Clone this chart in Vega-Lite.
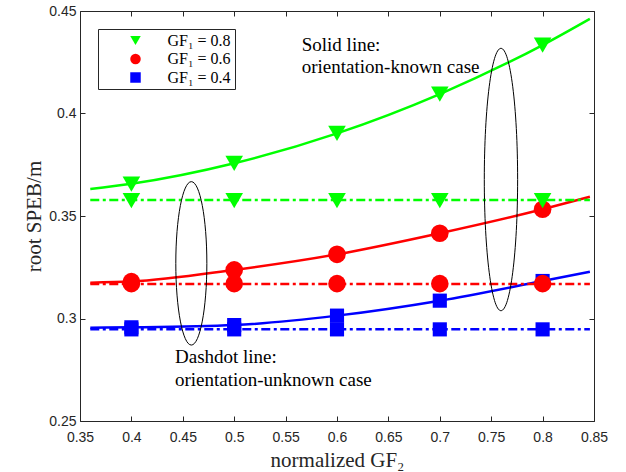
{
  "$schema": "https://vega.github.io/schema/vega-lite/v6.json",
  "width": 514,
  "height": 410,
  "autosize": {"type": "none"},
  "padding": {"left": 80, "top": 11, "right": 32, "bottom": 51},
  "background": "white",
  "config": {
    "view": {"stroke": "#262626", "strokeWidth": 1}
  },
  "datasets": {
    "lines": [
      {"x": 0.36, "y": 0.3632, "series": "GF₁ = 0.8", "kind": "solid"},
      {"x": 0.4, "y": 0.3657, "series": "GF₁ = 0.8", "kind": "solid"},
      {"x": 0.5, "y": 0.3757, "series": "GF₁ = 0.8", "kind": "solid"},
      {"x": 0.6, "y": 0.3903, "series": "GF₁ = 0.8", "kind": "solid"},
      {"x": 0.7, "y": 0.4095, "series": "GF₁ = 0.8", "kind": "solid"},
      {"x": 0.8, "y": 0.4334, "series": "GF₁ = 0.8", "kind": "solid"},
      {"x": 0.846, "y": 0.4462, "series": "GF₁ = 0.8", "kind": "solid"},
      {"x": 0.36, "y": 0.3175, "series": "GF₁ = 0.6", "kind": "solid"},
      {"x": 0.4, "y": 0.318, "series": "GF₁ = 0.6", "kind": "solid"},
      {"x": 0.5, "y": 0.3237, "series": "GF₁ = 0.6", "kind": "solid"},
      {"x": 0.6, "y": 0.3313, "series": "GF₁ = 0.6", "kind": "solid"},
      {"x": 0.7, "y": 0.3416, "series": "GF₁ = 0.6", "kind": "solid"},
      {"x": 0.8, "y": 0.3533, "series": "GF₁ = 0.6", "kind": "solid"},
      {"x": 0.846, "y": 0.3594, "series": "GF₁ = 0.6", "kind": "solid"},
      {"x": 0.36, "y": 0.2955, "series": "GF₁ = 0.4", "kind": "solid"},
      {"x": 0.4, "y": 0.2957, "series": "GF₁ = 0.4", "kind": "solid"},
      {"x": 0.5, "y": 0.2968, "series": "GF₁ = 0.4", "kind": "solid"},
      {"x": 0.6, "y": 0.3014, "series": "GF₁ = 0.4", "kind": "solid"},
      {"x": 0.7, "y": 0.3087, "series": "GF₁ = 0.4", "kind": "solid"},
      {"x": 0.8, "y": 0.3183, "series": "GF₁ = 0.4", "kind": "solid"},
      {"x": 0.846, "y": 0.3228, "series": "GF₁ = 0.4", "kind": "solid"},
      {"x": 0.36, "y": 0.3578, "series": "GF₁ = 0.8", "kind": "dashdot"},
      {"x": 0.846, "y": 0.3578, "series": "GF₁ = 0.8", "kind": "dashdot"},
      {"x": 0.36, "y": 0.3168, "series": "GF₁ = 0.6", "kind": "dashdot"},
      {"x": 0.846, "y": 0.3168, "series": "GF₁ = 0.6", "kind": "dashdot"},
      {"x": 0.36, "y": 0.2947, "series": "GF₁ = 0.4", "kind": "dashdot"},
      {"x": 0.846, "y": 0.2947, "series": "GF₁ = 0.4", "kind": "dashdot"}
    ],
    "markers": [
      {"x": 0.4, "y": 0.3655, "series": "GF₁ = 0.8", "kind": "solid"},
      {"x": 0.5, "y": 0.3757, "series": "GF₁ = 0.8", "kind": "solid"},
      {"x": 0.6, "y": 0.3903, "series": "GF₁ = 0.8", "kind": "solid"},
      {"x": 0.7, "y": 0.4095, "series": "GF₁ = 0.8", "kind": "solid"},
      {"x": 0.8, "y": 0.4334, "series": "GF₁ = 0.8", "kind": "solid"},
      {"x": 0.4, "y": 0.318, "series": "GF₁ = 0.6", "kind": "solid"},
      {"x": 0.5, "y": 0.3237, "series": "GF₁ = 0.6", "kind": "solid"},
      {"x": 0.6, "y": 0.3313, "series": "GF₁ = 0.6", "kind": "solid"},
      {"x": 0.7, "y": 0.3416, "series": "GF₁ = 0.6", "kind": "solid"},
      {"x": 0.8, "y": 0.3533, "series": "GF₁ = 0.6", "kind": "solid"},
      {"x": 0.4, "y": 0.2957, "series": "GF₁ = 0.4", "kind": "solid"},
      {"x": 0.5, "y": 0.2968, "series": "GF₁ = 0.4", "kind": "solid"},
      {"x": 0.6, "y": 0.3014, "series": "GF₁ = 0.4", "kind": "solid"},
      {"x": 0.7, "y": 0.3087, "series": "GF₁ = 0.4", "kind": "solid"},
      {"x": 0.8, "y": 0.3183, "series": "GF₁ = 0.4", "kind": "solid"},
      {"x": 0.4, "y": 0.3575, "series": "GF₁ = 0.8", "kind": "dashdot"},
      {"x": 0.5, "y": 0.3575, "series": "GF₁ = 0.8", "kind": "dashdot"},
      {"x": 0.6, "y": 0.3575, "series": "GF₁ = 0.8", "kind": "dashdot"},
      {"x": 0.7, "y": 0.3575, "series": "GF₁ = 0.8", "kind": "dashdot"},
      {"x": 0.8, "y": 0.3575, "series": "GF₁ = 0.8", "kind": "dashdot"},
      {"x": 0.4, "y": 0.317, "series": "GF₁ = 0.6", "kind": "dashdot"},
      {"x": 0.5, "y": 0.317, "series": "GF₁ = 0.6", "kind": "dashdot"},
      {"x": 0.6, "y": 0.317, "series": "GF₁ = 0.6", "kind": "dashdot"},
      {"x": 0.7, "y": 0.317, "series": "GF₁ = 0.6", "kind": "dashdot"},
      {"x": 0.8, "y": 0.317, "series": "GF₁ = 0.6", "kind": "dashdot"},
      {"x": 0.4, "y": 0.2947, "series": "GF₁ = 0.4", "kind": "dashdot"},
      {"x": 0.5, "y": 0.2947, "series": "GF₁ = 0.4", "kind": "dashdot"},
      {"x": 0.6, "y": 0.2947, "series": "GF₁ = 0.4", "kind": "dashdot"},
      {"x": 0.7, "y": 0.2947, "series": "GF₁ = 0.4", "kind": "dashdot"},
      {"x": 0.8, "y": 0.2947, "series": "GF₁ = 0.4", "kind": "dashdot"}
    ],
    "notes": [
      {"x": 0.5657, "y": 0.4305, "label": "Solid line:"},
      {"x": 0.5657, "y": 0.4197, "label": "orientation-known case"},
      {"x": 0.4424, "y": 0.2783, "label": "Dashdot line:"},
      {"x": 0.4424, "y": 0.2671, "label": "orientation-unknown case"}
    ]
  },
  "resolve": {"axis": {"x": "independent", "y": "independent"}},
  "layer": [
    {
      "data": {"name": "lines"},
      "transform": [{"filter": "datum.kind === 'solid' && datum.series === 'GF₁ = 0.8'"}],
      "mark": {"type": "line", "interpolate": "monotone", "strokeWidth": 2.5, "color": "#00ff00"},
      "encoding": {
        "x": {"field": "x", "type": "quantitative",
          "scale": {"domain": [0.35, 0.85], "nice": false, "zero": false},
          "axis": {"orient": "bottom", "values": [0.35, 0.4, 0.45, 0.5, 0.55, 0.6, 0.65, 0.7, 0.75, 0.8, 0.85],
            "format": "~g", "domain": false, "grid": false, "tickSize": -5, "tickColor": "#262626",
            "labelFont": "Liberation Sans", "labelFontSize": 14, "labelColor": "#262626", "labelPadding": 14,
            "labelFlush": false, "labelOverlap": false,
            "title": "normalized GF₂", "titleFont": "Liberation Serif", "titleFontSize": 21,
            "titleFontWeight": "normal", "titleColor": "#262626", "titlePadding": 5}},
        "y": {"field": "y", "type": "quantitative",
          "scale": {"domain": [0.25, 0.45], "nice": false, "zero": false},
          "axis": {"orient": "left", "values": [0.25, 0.3, 0.35, 0.4, 0.45],
            "format": "~g", "domain": false, "grid": false, "tickSize": -5, "tickColor": "#262626",
            "labelFont": "Liberation Sans", "labelFontSize": 14, "labelColor": "#262626", "labelPadding": 9,
            "labelFlush": false, "labelOverlap": false,
            "title": "root SPEB/m", "titleFont": "Liberation Serif", "titleFontSize": 21,
            "titleFontWeight": "normal", "titleColor": "#262626", "titlePadding": 4}}
      }
    },
    {
      "data": {"name": "lines"},
      "transform": [{"filter": "datum.kind === 'solid' && datum.series === 'GF₁ = 0.6'"}],
      "mark": {"type": "line", "interpolate": "monotone", "strokeWidth": 2.5, "color": "#ff0000"},
      "encoding": {
        "x": {"field": "x", "type": "quantitative", "axis": null},
        "y": {"field": "y", "type": "quantitative", "axis": null}
      }
    },
    {
      "data": {"name": "lines"},
      "transform": [{"filter": "datum.kind === 'solid' && datum.series === 'GF₁ = 0.4'"}],
      "mark": {"type": "line", "interpolate": "monotone", "strokeWidth": 2.5, "color": "#0000ff"},
      "encoding": {
        "x": {"field": "x", "type": "quantitative", "axis": null},
        "y": {"field": "y", "type": "quantitative", "axis": null}
      }
    },
    {
      "data": {"name": "lines"},
      "transform": [{"filter": "datum.kind === 'dashdot' && datum.series === 'GF₁ = 0.8'"}],
      "mark": {"type": "line", "strokeWidth": 2.5, "strokeDash": [9, 3.5, 3, 3.5], "color": "#00ff00"},
      "encoding": {
        "x": {"field": "x", "type": "quantitative", "axis": null},
        "y": {"field": "y", "type": "quantitative", "axis": null}
      }
    },
    {
      "data": {"name": "lines"},
      "transform": [{"filter": "datum.kind === 'dashdot' && datum.series === 'GF₁ = 0.6'"}],
      "mark": {"type": "line", "strokeWidth": 2.5, "strokeDash": [9, 3.5, 3, 3.5], "color": "#ff0000"},
      "encoding": {
        "x": {"field": "x", "type": "quantitative", "axis": null},
        "y": {"field": "y", "type": "quantitative", "axis": null}
      }
    },
    {
      "data": {"name": "lines"},
      "transform": [{"filter": "datum.kind === 'dashdot' && datum.series === 'GF₁ = 0.4'"}],
      "mark": {"type": "line", "strokeWidth": 2.5, "strokeDash": [9, 3.5, 3, 3.5], "color": "#0000ff"},
      "encoding": {
        "x": {"field": "x", "type": "quantitative", "axis": null},
        "y": {"field": "y", "type": "quantitative", "axis": null}
      }
    },
    {
      "data": {"name": "markers"},
      "mark": {"type": "point", "filled": true, "opacity": 1},
      "encoding": {
        "x": {"field": "x", "type": "quantitative", "axis": null},
        "y": {"field": "y", "type": "quantitative", "axis": null},
        "color": {"field": "series", "type": "nominal",
          "scale": {"domain": ["GF₁ = 0.8", "GF₁ = 0.6", "GF₁ = 0.4"], "range": ["#00ff00", "#ff0000", "#0000ff"]},
          "legend": {"title": null, "orient": "none", "legendX": 18, "legendY": 18,
            "strokeColor": "#262626", "fillColor": "white", "padding": 3.5,
            "rowPadding": 2.5, "symbolOffset": 26, "labelOffset": 24,
            "labelFont": "Liberation Serif", "labelFontSize": 16, "labelColor": "#000000",
            "symbolSize": 110, "symbolStrokeWidth": 0}},
        "shape": {"field": "series", "type": "nominal",
          "scale": {"domain": ["GF₁ = 0.8", "GF₁ = 0.6", "GF₁ = 0.4"], "range": ["triangle-down", "circle", "square"]},
          "legend": {"title": null, "orient": "none", "legendX": 18, "legendY": 18,
            "strokeColor": "#262626", "fillColor": "white", "padding": 3.5,
            "rowPadding": 2.5, "symbolOffset": 26, "labelOffset": 24,
            "labelFont": "Liberation Serif", "labelFontSize": 16, "labelColor": "#000000",
            "symbolSize": 110, "symbolStrokeWidth": 0}},
        "size": {"condition": {"test": "datum.series === 'GF₁ = 0.4'", "value": 200}, "value": 310}
      }
    },
    {
      "data": {"values": [{"x": 0.4583, "y": 0.3269}]},
      "mark": {"type": "point", "filled": false, "stroke": "#000000", "strokeWidth": 1, "opacity": 1, "size": 26700,
        "shape": "M0,-1C0.105,-1 0.19,-0.552 0.19,0C0.19,0.552 0.105,1 0,1C-0.105,1 -0.19,0.552 -0.19,0C-0.19,-0.552 -0.105,-1 0,-1Z"},
      "encoding": {
        "x": {"field": "x", "type": "quantitative",
          "axis": {"orient": "top", "values": [0.35, 0.4, 0.45, 0.5, 0.55, 0.6, 0.65, 0.7, 0.75, 0.8, 0.85],
            "labels": false, "domain": false, "grid": false, "tickSize": -5, "tickColor": "#262626", "title": null}},
        "y": {"field": "y", "type": "quantitative",
          "axis": {"orient": "right", "values": [0.25, 0.3, 0.35, 0.4, 0.45],
            "labels": false, "domain": false, "grid": false, "tickSize": -5, "tickColor": "#262626", "title": null}}
      }
    },
    {
      "data": {"values": [{"x": 0.7595, "y": 0.3678}]},
      "mark": {"type": "point", "filled": false, "stroke": "#000000", "strokeWidth": 1, "opacity": 1, "size": 68850,
        "shape": "M0,-1C0.070,-1 0.127,-0.552 0.127,0C0.127,0.552 0.070,1 0,1C-0.070,1 -0.127,0.552 -0.127,0C-0.127,-0.552 -0.070,-1 0,-1Z"},
      "encoding": {
        "x": {"field": "x", "type": "quantitative", "axis": null},
        "y": {"field": "y", "type": "quantitative", "axis": null}
      }
    },
    {
      "data": {"name": "notes"},
      "mark": {"type": "text", "align": "left", "baseline": "alphabetic", "font": "Liberation Serif", "fontSize": 19, "color": "#000000"},
      "encoding": {
        "x": {"field": "x", "type": "quantitative", "axis": null},
        "y": {"field": "y", "type": "quantitative", "axis": null},
        "text": {"field": "label", "type": "nominal"}
      }
    }
  ]
}
